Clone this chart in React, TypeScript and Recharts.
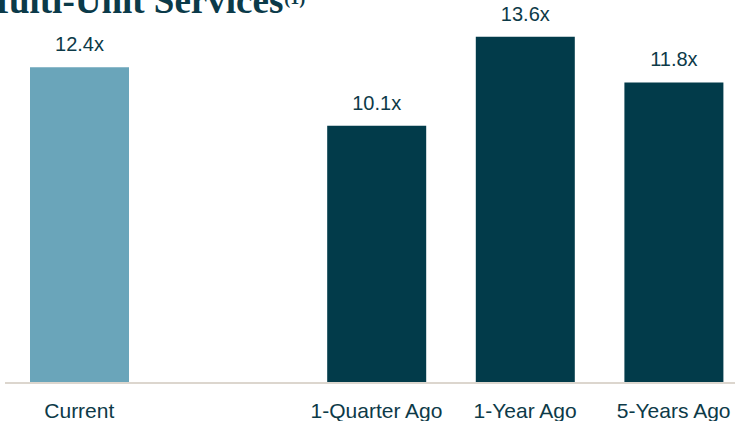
import React from 'react';
import { BarChart, Bar, XAxis, YAxis, Cell, LabelList } from 'recharts';

const categories = ['Current', '', '1-Quarter Ago', '1-Year Ago', '5-Years Ago'];
const multiples: (number | null)[] = [12.4, null, 10.1, 13.6, 11.8];
const barColors = ['#6aa5ba', '#023b4a', '#023b4a', '#023b4a', '#023b4a'];

const TEXT = '#0d3a48';

const data = categories.map((name, i) => ({ name, value: multiples[i] }));

const App: React.FC = () => (
  <div style={{ position: 'absolute', left: 0, top: 0, width: 735, height: 421, overflow: 'hidden', background: '#fff' }}>
    <div
      style={{
        position: 'absolute',
        left: -26,
        top: -19,
        fontFamily: '"Liberation Serif", serif',
        fontWeight: 'bold',
        fontSize: 37,
        color: '#0b3a49',
        whiteSpace: 'nowrap',
        lineHeight: '40px',
      }}
    >
      Multi-Unit Services
      <span style={{ fontSize: 18, lineHeight: 0, position: 'relative', top: -9, marginLeft: 1 }}>(1)</span>
    </div>
    <BarChart
      width={760}
      height={421}
      data={data}
      margin={{ top: 1, right: 12, left: 5, bottom: 0 }}
      barSize={99}
    >
      <XAxis
        dataKey="name"
        interval={0}
        height={38}
        tickSize={0}
        tickMargin={20}
        tickLine={false}
        axisLine={{ stroke: '#dcd6ce', strokeWidth: 2 }}
        tick={{ fontSize: 21, fill: TEXT, fontFamily: '"Liberation Sans", Arial, sans-serif' }}
      />
      <YAxis hide domain={[0, 15]} />
      <Bar dataKey="value" isAnimationActive={false}>
        {data.map((d, i) => (
          <Cell key={i} fill={barColors[i]} />
        ))}
        <LabelList
          dataKey="value"
          position="top"
          offset={16}
          formatter={(v: any) => (v == null ? '' : `${v}x`)}
          style={{ fontSize: 20, fill: TEXT, fontFamily: '"Liberation Sans", Arial, sans-serif' }}
        />
      </Bar>
    </BarChart>
  </div>
);

export default App;
